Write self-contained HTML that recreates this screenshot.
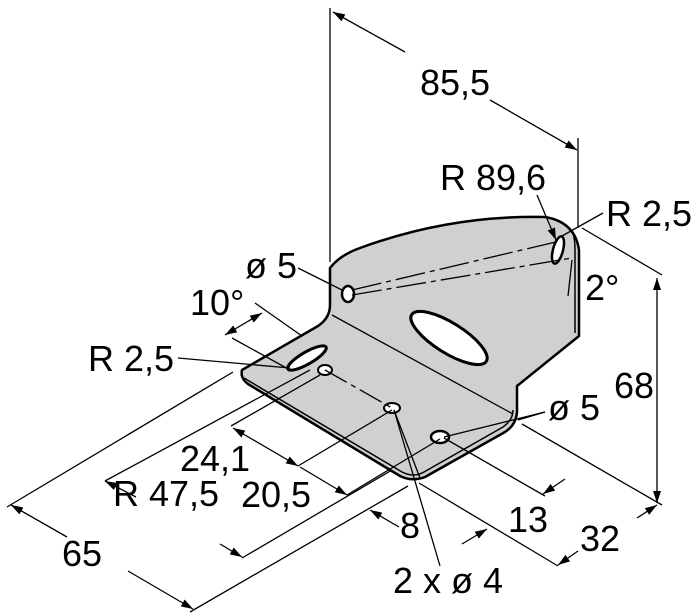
<!DOCTYPE html>
<html><head><meta charset="utf-8"><style>
html,body{margin:0;padding:0;background:#fff;width:700px;height:614px;overflow:hidden}
svg{display:block}
text{font-family:"Liberation Sans",sans-serif;font-size:36px;fill:#000}
</style></head><body>
<svg width="700" height="614" viewBox="0 0 700 614" xmlns="http://www.w3.org/2000/svg">
<defs>
<marker id="a" viewBox="0 0 12 8" refX="12" refY="4" markerWidth="12" markerHeight="8" orient="auto-start-reverse" markerUnits="userSpaceOnUse"><path d="M0,0 L12,4 L0,8 z" fill="#000"/></marker>
</defs>
<path d="M330,268 Q340,255 360,248 Q450,215 545,217 Q575,222 579,250 L579,336 L517,386 L517,412 Q516,425 505,432 L425,477 Q412,482 400,476 L248,384 Q240,378 242,370 L318,326 Q330,318 330,305 Z" fill="#d0d0d0" stroke="#000" stroke-width="2.5" stroke-linejoin="round"/>
<path d="M244,378 L402,472 Q414,478 424,472 L503,427 Q513,420 513,410" fill="none" stroke="#000" stroke-width="1.5"/>
<path d="M573,232 Q575,240 575,250 L575,333" fill="none" stroke="#000" stroke-width="1.5"/>
<line x1="332" y1="315" x2="513" y2="414" stroke="#000" stroke-width="1.3"/>
<ellipse cx="348" cy="294" rx="6" ry="8" fill="#fff" stroke="#000" stroke-width="2.5"/>
<ellipse cx="449" cy="338" rx="44" ry="15" transform="rotate(32 449 338)" fill="#fff" stroke="#000" stroke-width="3"/>
<ellipse cx="307" cy="358" rx="22" ry="6" transform="rotate(-30 307 358)" fill="#fff" stroke="#000" stroke-width="3"/>
<ellipse cx="325" cy="370" rx="7" ry="5" fill="#fff" stroke="#000" stroke-width="2"/>
<ellipse cx="392" cy="408" rx="8" ry="5" fill="#fff" stroke="#000" stroke-width="2"/>
<ellipse cx="440" cy="437" rx="9" ry="6" fill="#fff" stroke="#000" stroke-width="2.5"/>
<ellipse cx="558" cy="250" rx="5" ry="14" transform="rotate(15 558 250)" fill="#fff" stroke="#000" stroke-width="2.5"/>
<g stroke="#000" stroke-width="1.3" fill="none">
<line x1="352" y1="290" x2="560" y2="241" stroke-dasharray="30,5,5,5"/>
<line x1="352" y1="295" x2="572" y2="258" stroke-dasharray="30,5,5,5"/>
<line x1="325" y1="370" x2="392" y2="408" stroke-dasharray="25,5,5,5"/>
<line x1="330" y1="8" x2="330" y2="262"/>
<line x1="578" y1="138" x2="578" y2="228"/>
<line x1="333" y1="12" x2="405" y2="52" marker-start="url(#a)"/>
<line x1="490" y1="100" x2="577" y2="150" marker-end="url(#a)"/>
<line x1="537" y1="195" x2="556" y2="240" marker-end="url(#a)"/>
<line x1="603" y1="213" x2="562" y2="236"/>
<line x1="572" y1="260" x2="568" y2="296"/>
<line x1="298" y1="268" x2="342" y2="290"/>
<line x1="582" y1="228" x2="662" y2="275"/>
<line x1="657" y1="278" x2="657" y2="503" marker-start="url(#a)" marker-end="url(#a)"/>
<line x1="522" y1="424" x2="662" y2="505"/>
<line x1="255" y1="303" x2="302" y2="336"/>
<line x1="232" y1="338" x2="290" y2="370"/>
<line x1="225" y1="335" x2="262" y2="313" marker-start="url(#a)" marker-end="url(#a)"/>
<line x1="178" y1="358" x2="290" y2="368"/>
<line x1="7" y1="507" x2="233" y2="372"/>
<line x1="11" y1="505" x2="67" y2="537" marker-start="url(#a)"/>
<line x1="128" y1="571" x2="193" y2="609" marker-end="url(#a)"/>
<line x1="190" y1="612" x2="408" y2="486"/>
<line x1="105" y1="481" x2="310" y2="370"/>
<line x1="105" y1="481" x2="136" y2="497" marker-start="url(#a)"/>
<line x1="220" y1="544" x2="242" y2="557" marker-end="url(#a)"/>
<line x1="242" y1="558" x2="392" y2="470"/>
<line x1="231" y1="426" x2="320" y2="375"/>
<line x1="233" y1="428" x2="298" y2="466" marker-start="url(#a)" marker-end="url(#a)"/>
<line x1="300" y1="467" x2="347" y2="495" marker-end="url(#a)"/>
<line x1="298" y1="466" x2="392" y2="410"/>
<line x1="347" y1="495" x2="440" y2="439"/>
<line x1="370" y1="510" x2="399" y2="527" marker-start="url(#a)"/>
<line x1="444" y1="438" x2="545" y2="496"/>
<line x1="565" y1="479" x2="543" y2="494" marker-end="url(#a)"/>
<line x1="462" y1="544" x2="487" y2="529" marker-end="url(#a)"/>
<line x1="419" y1="483" x2="558" y2="566"/>
<line x1="637" y1="518" x2="657" y2="505" marker-end="url(#a)"/>
<line x1="578" y1="551" x2="558" y2="565" marker-end="url(#a)"/>
<line x1="444" y1="437" x2="545" y2="412"/>
<line x1="518" y1="420" x2="545" y2="412"/>
<line x1="394" y1="410" x2="440" y2="566"/>
<line x1="394" y1="410" x2="420" y2="478"/>
</g>
<text x="420" y="95">85,5</text>
<text x="440" y="190">R 89,6</text>
<text x="606" y="226">R 2,5</text>
<text x="245" y="278">ø 5</text>
<text x="585" y="300">2°</text>
<text x="190" y="315">10°</text>
<text x="88" y="371">R 2,5</text>
<text x="614" y="398">68</text>
<text x="548" y="420">ø 5</text>
<text x="180" y="471">24,1</text>
<text x="113" y="506">R 47,5</text>
<text x="241" y="507">20,5</text>
<text x="400" y="538">8</text>
<text x="508" y="532">13</text>
<text x="580" y="551">32</text>
<text x="62" y="566">65</text>
<text x="393" y="593">2 x ø 4</text>
</svg>
</body></html>
